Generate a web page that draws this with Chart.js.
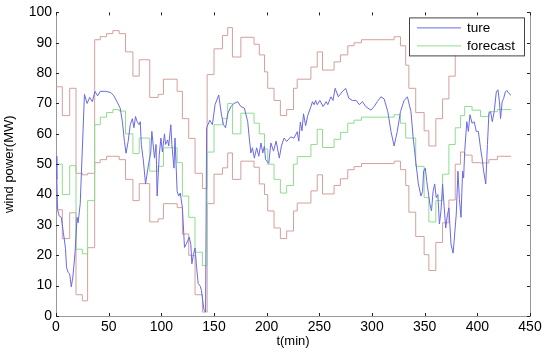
<!DOCTYPE html>
<html>
<head>
<meta charset="utf-8">
<script src="https://cdn.jsdelivr.net/npm/chart.js@4/dist/chart.umd.min.js"></script>
<style>
  html, body { margin: 0; padding: 0; background: #fff; }
</style>
</head>
<body>
<canvas id="chart" width="550" height="352"></canvas>
<script>
'use strict';

// measured wind power (blue)
const tTrue = [0, 0.8, 1.5, 3, 5, 7, 9, 10, 11.5, 13, 14.5, 16, 18, 20, 21, 23, 25, 27, 29.5, 32, 34.5, 37, 39.5, 42, 47, 52, 55, 58, 61, 63, 65, 66.5, 68.5, 70.5, 72.5, 74, 75.5, 77, 79, 80, 81, 83, 85, 88, 90, 91, 93.5, 95, 96, 98, 99.6, 101, 103, 104, 106, 107, 109, 110, 112, 113, 115, 116.5, 118, 120, 122, 123.5, 125, 126.5, 128, 129, 130.5, 132, 133.5, 135, 137, 138, 140.5, 142, 143, 146, 148.5, 151, 154.5, 157, 159, 161, 163, 166, 169, 172.5, 175.5, 178.8, 182, 183.5, 185, 186.5, 188.3, 190.5, 192.5, 194.6, 196.3, 197.8, 199, 202, 204, 206.5, 209, 212, 214, 216.5, 219, 222.8, 226, 229, 230.5, 232, 233.5, 235, 237, 239, 242, 243.5, 245, 246.5, 248, 250.5, 253.5, 256.5, 258, 261, 263, 265, 268, 271.5, 275, 278, 281.5, 285, 288, 291, 294, 299, 302, 305, 308.5, 311.5, 315, 318, 321, 324, 327, 330.5, 333.6, 337, 339, 341.5, 344, 346.5, 348, 349, 350.6, 352, 355, 356.5, 358, 359.5, 361, 362.5, 364, 365.5, 367, 368.5, 370, 371.5, 373, 375, 377, 378, 380, 381.6, 383, 384.5, 386, 387, 388, 390, 391.5, 393, 395, 397, 399, 401, 403, 404.5, 406, 408, 409.6, 411, 412.6, 414.2, 416, 418, 419.6, 421, 422, 423.6, 425, 426.6, 428, 430, 432];
const wTrue = [52.6, 45, 35, 33, 32.5, 27.5, 22.3, 16, 14.4, 13.8, 9.6, 12.8, 20.5, 32.5, 30.7, 37, 55, 73, 70, 72, 70.6, 74, 72.5, 74, 74, 73.6, 72.5, 70.5, 68.4, 64, 57.5, 53.6, 57.5, 63, 65, 62, 65.7, 64, 63, 64, 56.5, 51, 43.5, 50.3, 54, 60.8, 52, 56.5, 39.5, 53, 58.6, 54, 60, 56.5, 58, 56, 63, 56.5, 48.7, 58.6, 41, 39.5, 40.5, 35.6, 22.6, 23.6, 24.7, 26, 23.6, 17.2, 20.3, 22.4, 16, 10.7, 9.8, 8.5, 2, 1.3, 62, 64.5, 63, 69.6, 72.8, 66.5, 63, 62, 66.6, 69, 70, 70.6, 69, 68.5, 64, 58.6, 53.7, 55.4, 52, 55.4, 52.6, 57, 53.7, 55.9, 51.5, 50.3, 57, 54.3, 57.6, 52, 56, 58.6, 57.5, 59, 58.6, 60.7, 57.6, 63.9, 61, 66.6, 62.7, 66, 69, 70.6, 69.6, 71, 69.6, 71, 69, 70.6, 69.6, 72.2, 71, 75, 72.2, 73.8, 75, 71.7, 71, 71, 69.6, 70.6, 69, 67.8, 69, 70.6, 72.2, 71.5, 67.3, 60.8, 56, 60.8, 67.3, 71, 72.2, 67.3, 59, 51, 43.5, 39.5, 41, 47.7, 48.7, 44.3, 36.8, 34.6, 41, 43.5, 39, 40, 30.3, 34.6, 43.5, 36, 29, 33, 35.6, 23.7, 20.7, 24.8, 33.6, 47.7, 38.4, 32.5, 47.7, 45.5, 54.2, 64, 60.8, 66.3, 63.5, 64, 60.8, 60.8, 55.4, 52, 47.7, 43.5, 56.5, 66.8, 67.3, 64, 67.3, 73.8, 74.5, 70.6, 65, 70.6, 71.7, 73.8, 74.3, 73.3, 72.7];

// step series: forecast and its upper / lower bounds
const tStep = [0, 6, 13, 19, 25, 30, 36.7, 42, 48, 54, 60, 66, 73, 79, 89, 97, 102, 115, 120, 126, 132, 139, 143.5, 150, 158, 163, 167.5, 175.5, 188, 193, 198, 201, 207, 213, 219, 225.5, 229, 242, 248, 253, 264, 270, 277, 283, 290, 321, 327, 332, 335, 341.5, 349.5, 354, 360.6, 367, 373, 379, 384, 388, 395, 403, 411, 419, 432];
const forecast = [50, 40, 49.5, 22, 20.5, 38, 63, 65.5, 67, 68, 67.5, 60, 53.5, 58.6, 47.7, 49.3, 55.4, 50.5, 39.5, 32.5, 21, 16.6, 54, 63, 65, 70, 60, 66.8, 63.5, 60, 55, 50, 45, 40.5, 43, 50, 52.5, 56.5, 61.5, 55.5, 58.2, 60.5, 63.5, 64.5, 65.5, 66.3, 63.5, 58.6, 58.6, 49.3, 39, 31, 38, 46.7, 56.5, 62, 66, 69, 67.8, 65.7, 67.3, 68, 68];
const upper = [75.5, 66, 75, 47, 46.5, 47, 91, 92, 93, 94, 93, 87, 79, 84.4, 72, 73, 78, 74, 65, 58.5, 47, 42, 79.5, 88, 92.4, 95, 85.3, 91.8, 89.5, 86, 80.4, 75, 71, 66, 68, 75, 78, 82, 87, 81, 83.7, 86, 89, 90, 91, 92, 89, 82.6, 75, 67, 61, 56, 65, 71.5, 79, 91, 93, 93, 92, 91, 92, 93, 93];
const lower = [35, 25.5, 34, 7, 5, 22.5, 50.5, 51.5, 52.6, 52.6, 51.5, 45, 38, 43.6, 31, 32, 37, 35.7, 27, 20, 7, 1.3, 37, 46.7, 48.8, 53.7, 45, 51, 49, 43.5, 40, 34.6, 29, 25.5, 28, 34.6, 37.2, 41.2, 46.5, 40.2, 43, 45.2, 48.2, 49.2, 50.2, 51, 48.2, 43, 34.2, 26.2, 20.2, 15, 24.2, 30.7, 38.2, 50, 54, 53, 50.5, 50.4, 51.5, 52.6, 52.6];

const xTicks = [0, 50, 100, 150, 200, 250, 300, 350, 400, 450];
const yTicks = [0, 10, 20, 30, 40, 50, 60, 70, 80, 90, 100];

const toPoints = (ts, vs) => ts.map((t, i) => ({ x: t, y: vs[i] }));

// 目盛りを内側に描く（MATLAB風）＋右の軸線
const innerTicks = {
  id: 'innerTicks',
  afterDraw(chart) {
    const { ctx, chartArea: a, scales } = chart;
    ctx.save();
    ctx.strokeStyle = '#999';
    ctx.lineWidth = 1;
    ctx.beginPath();
    ctx.moveTo(a.right + 0.5, a.top);
    ctx.lineTo(a.right + 0.5, a.bottom);
    ctx.stroke();
    ctx.strokeStyle = '#222';
    ctx.beginPath();
    xTicks.forEach((v) => {
      const px = Math.round(scales.x.getPixelForValue(v)) + 0.5;
      ctx.moveTo(px, a.bottom); ctx.lineTo(px, a.bottom - 3);
      ctx.moveTo(px, a.top); ctx.lineTo(px, a.top + 3);
    });
    yTicks.forEach((v) => {
      const py = Math.round(scales.y.getPixelForValue(v)) + 0.5;
      ctx.moveTo(a.left, py); ctx.lineTo(a.left + 3, py);
      ctx.moveTo(a.right, py); ctx.lineTo(a.right - 3, py);
    });
    ctx.stroke();
    ctx.restore();
  }
};

// 凡例（白い箱の中に ture / forecast）
const boxLegend = {
  id: 'boxLegend',
  afterDraw(chart) {
    const { ctx, chartArea: a } = chart;
    const w = 115, h = 38;
    const x0 = a.right - 6 - w, y0 = a.top + 5;
    ctx.save();
    ctx.fillStyle = '#fff';
    ctx.fillRect(x0, y0, w, h);
    ctx.strokeStyle = '#444';
    ctx.lineWidth = 1;
    ctx.strokeRect(x0 + 0.5, y0 + 0.5, w, h);
    ctx.font = '13.5px Arial, "Liberation Sans", sans-serif';
    ctx.textBaseline = 'middle';
    chart.data.datasets.slice(0, 2).forEach((ds, i) => {
      const yy = y0 + 10.5 + i * 18;
      ctx.strokeStyle = ds.borderColor;
      ctx.beginPath();
      ctx.moveTo(x0 + 8, yy);
      ctx.lineTo(x0 + 52, yy);
      ctx.stroke();
      ctx.fillStyle = '#000';
      ctx.fillText(ds.label, x0 + 58, yy);
    });
    ctx.restore();
  }
};

const lineStyle = { borderWidth: 1, pointRadius: 0, tension: 0, fill: false };

new Chart(document.getElementById('chart'), {
  type: 'line',
  data: {
    datasets: [
      { label: 'ture', data: toPoints(tTrue, wTrue), borderColor: '#6a6ae6', ...lineStyle },
      { label: 'forecast', data: toPoints(tStep, forecast), borderColor: '#8fdc8f', stepped: true, ...lineStyle },
      { label: 'upper', data: toPoints(tStep, upper), borderColor: '#d2a09c', stepped: true, ...lineStyle },
      { label: 'lower', data: toPoints(tStep, lower), borderColor: '#d2a09c', stepped: true, ...lineStyle }
    ]
  },
  options: {
    responsive: false,
    animation: false,
    devicePixelRatio: 1,
    layout: { padding: { top: 10, right: 20, left: 0, bottom: 0 } },
    plugins: {
      legend: { display: false },
      tooltip: { enabled: false }
    },
    scales: {
      x: {
        type: 'linear',
        min: 0,
        max: 450,
        afterFit: (s) => { s.height = 36; },
        afterBuildTicks: (s) => { s.ticks = xTicks.map((v) => ({ value: v })); },
        ticks: { color: '#000', padding: 3, maxRotation: 0, font: { family: 'Arial, "Liberation Sans", sans-serif', size: 14 } },
        grid: { drawOnChartArea: false, drawTicks: false },
        border: { display: true, color: '#999' },
        title: { display: true, text: 't(min)', color: '#000', padding: { top: 0, bottom: 3 }, font: { family: 'Arial, "Liberation Sans", sans-serif', size: 13 } }
      },
      y: {
        min: 0,
        max: 100,
        afterFit: (s) => { s.width = 56; },
        afterBuildTicks: (s) => { s.ticks = yTicks.map((v) => ({ value: v })); },
        ticks: { color: '#000', padding: 4, font: { family: 'Arial, "Liberation Sans", sans-serif', size: 14 } },
        grid: { drawOnChartArea: false, drawTicks: false },
        border: { display: true, color: '#999' },
        title: { display: true, text: 'wind power(MW)', color: '#000', padding: { top: 2, bottom: 0 }, font: { family: 'Arial, "Liberation Sans", sans-serif', size: 13 } }
      }
    }
  },
  plugins: [innerTicks, boxLegend]
});
</script>
</body>
</html>
